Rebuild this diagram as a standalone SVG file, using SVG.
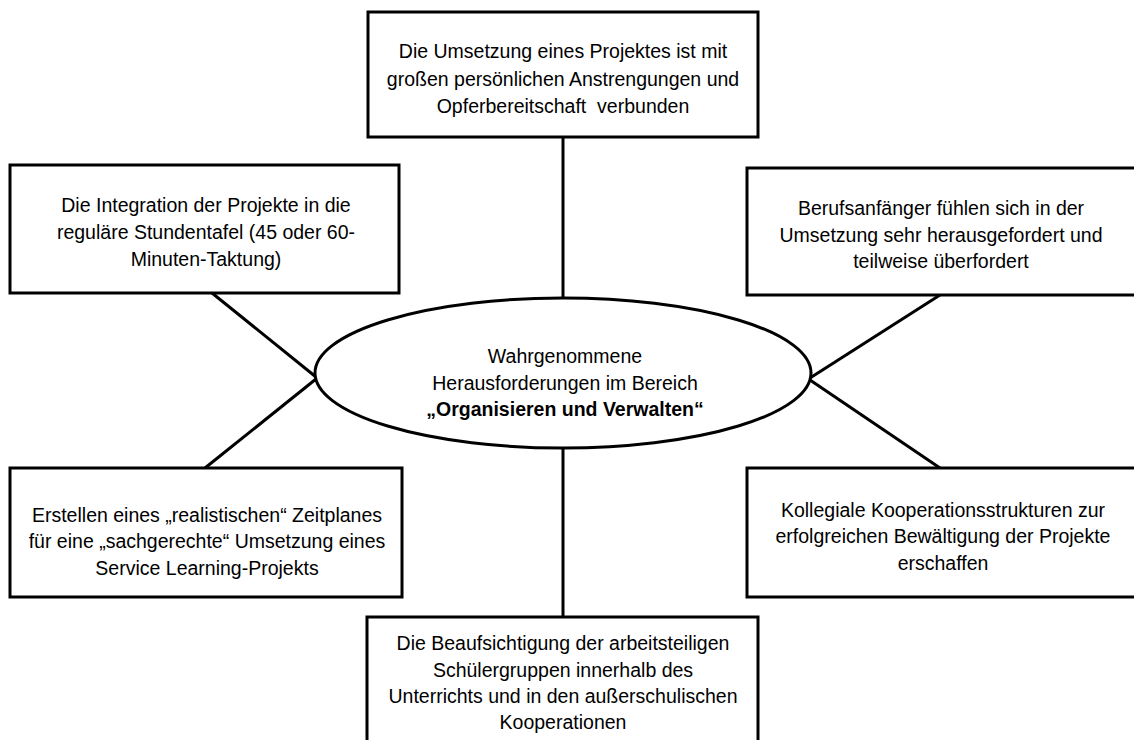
<svg xmlns="http://www.w3.org/2000/svg" width="1134" height="740" viewBox="0 0 1134 740">
<style>
.box{fill:#fff;stroke:#000;stroke-width:3}
.ell{fill:#fff;stroke:#000;stroke-width:3}
.con line{stroke:#000;stroke-width:3}
text{font-family:"Liberation Sans",Arial,sans-serif;font-size:19.5px;fill:#000;text-anchor:middle}
.b{font-weight:bold}
</style>
<rect width="1134" height="740" fill="#fff"/>
<g id="connectors" class="con">
<line x1="563" y1="137" x2="563" y2="300"/>
<line x1="212" y1="293" x2="316" y2="377"/>
<line x1="940" y1="295" x2="810" y2="378"/>
<line x1="205" y1="468" x2="316" y2="379"/>
<line x1="940" y1="468" x2="810" y2="380"/>
<line x1="563" y1="446" x2="563" y2="617"/>
</g>
<g id="center">
<ellipse class="ell" cx="563" cy="373" rx="248" ry="75"/>
<text x="565" y="363">Wahrgenommene</text>
<text x="565" y="390">Herausforderungen im Bereich</text>
<text x="565" y="416" class="b">„Organisieren und Verwalten“</text>
</g>
<g id="n-top">
<rect class="box" x="368" y="12" width="390" height="125"/>
<text x="563" y="58">Die Umsetzung eines Projektes ist mit</text>
<text x="563" y="86">großen persönlichen Anstrengungen und</text>
<text x="563" y="113" xml:space="preserve">Opferbereitschaft  verbunden</text>
</g>
<g id="n-left-top">
<rect class="box" x="10" y="165" width="389" height="128"/>
<text x="206" y="212">Die Integration der Projekte in die</text>
<text x="206" y="239">reguläre Stundentafel (45 oder 60-</text>
<text x="206" y="266">Minuten-Taktung)</text>
</g>
<g id="n-right-top">
<rect class="box" x="747" y="168" width="392" height="127"/>
<text x="941" y="215">Berufsanfänger fühlen sich in der</text>
<text x="941" y="242">Umsetzung sehr herausgefordert und</text>
<text x="941" y="268">teilweise überfordert</text>
</g>
<g id="n-left-bottom">
<rect class="box" x="10" y="468" width="392" height="129"/>
<text x="207" y="522">Erstellen eines „realistischen“ Zeitplanes</text>
<text x="207" y="548">für eine „sachgerechte“ Umsetzung eines</text>
<text x="207" y="575">Service Learning-Projekts</text>
</g>
<g id="n-right-bottom">
<rect class="box" x="747" y="468" width="392" height="129"/>
<text x="943" y="517">Kollegiale Kooperationsstrukturen zur</text>
<text x="943" y="543">erfolgreichen Bewältigung der Projekte</text>
<text x="943" y="570">erschaffen</text>
</g>
<g id="n-bottom">
<rect class="box" x="367" y="617" width="391" height="140"/>
<text x="563" y="650">Die Beaufsichtigung der arbeitsteiligen</text>
<text x="563" y="677">Schülergruppen innerhalb des</text>
<text x="563" y="703">Unterrichts und in den außerschulischen</text>
<text x="563" y="729">Kooperationen</text>
</g>
</svg>
